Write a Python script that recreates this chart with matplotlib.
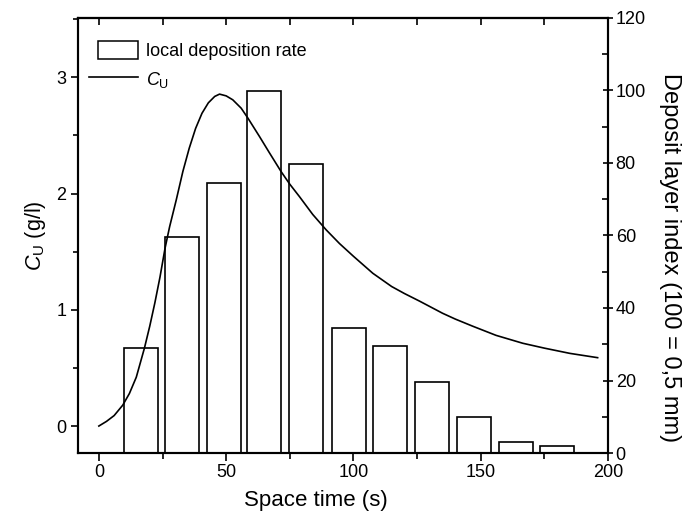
import matplotlib
matplotlib.use("Agg")
import matplotlib.pyplot as plt
from matplotlib.ticker import MultipleLocator
from matplotlib.patches import Patch, Rectangle
from matplotlib.lines import Line2D
from matplotlib.legend_handler import HandlerPatch

# bar data: deposit layer index (right axis)
bar_centers = [16.5, 32.8, 49.3, 65.0, 81.4, 98.2, 114.4, 130.8, 147.2, 163.7, 180.1]
bar_heights = [29.0, 59.5, 74.5, 99.8, 79.6, 34.5, 29.6, 19.6, 9.9, 2.9, 2.0]
bar_width = 13.3

# C_U curve (left axis)
cu_time = [0, 3, 6, 9.4, 12, 14.7, 17.9, 20, 22, 24, 26, 27.8, 30.4, 33, 35.5, 38, 40.5,
           43, 45.5, 47.4, 50, 52.6, 55.9, 58.5, 63.1, 67, 71.6, 75, 78.8, 84, 89.3,
           94.5, 100, 107.6, 115, 120, 125.9, 135, 140, 146.8, 156, 166.5, 175, 185, 195.9]
cu_conc = [0.0, 0.04, 0.09, 0.18, 0.28, 0.42, 0.67, 0.86, 1.06, 1.28, 1.53, 1.715, 1.945,
           2.19, 2.39, 2.56, 2.69, 2.78, 2.835, 2.855, 2.84, 2.806, 2.734, 2.65, 2.49, 2.35,
           2.188, 2.08, 1.973, 1.82, 1.687, 1.57, 1.46, 1.314, 1.2, 1.14, 1.075, 0.97,
           0.92, 0.859, 0.78, 0.712, 0.67, 0.625, 0.588]

plt.rcParams.update({
    "font.family": ["Liberation Sans", "DejaVu Sans"],
    "mathtext.fontset": "custom",
    "mathtext.it": "Liberation Sans:italic",
    "mathtext.rm": "Liberation Sans",
})


# narrower box for the bar legend entry
def small_box(legend, orig_handle, xdescent, ydescent, width, height, fontsize):
    w = width * 0.82
    return Rectangle((-xdescent + (width - w), -ydescent), w, height)


fig = plt.figure(figsize=(6.84, 5.21), dpi=100)
ax = fig.add_axes([0.114, 0.1305, 0.775, 0.835])
ax2 = ax.twinx()

ax.plot(cu_time, cu_conc, color="black", lw=1.2, zorder=3)
ax2.bar(bar_centers, bar_heights, width=bar_width, fill=False, edgecolor="black", lw=1.2)

ax.set_xlim(-8.2, 200)
ax.set_ylim(-0.232, 3.51)
ax2.set_ylim(0, 120)

ax.xaxis.set_major_locator(MultipleLocator(50))
ax.xaxis.set_minor_locator(MultipleLocator(25))
ax.yaxis.set_major_locator(MultipleLocator(1))
ax.yaxis.set_minor_locator(MultipleLocator(0.5))
ax2.yaxis.set_major_locator(MultipleLocator(20))
ax2.yaxis.set_minor_locator(MultipleLocator(10))

ax.tick_params(axis="x", which="both", direction="out", top=False, labelsize=13, width=1.2, pad=2)
ax.tick_params(axis="x", which="major", length=6)
ax.tick_params(axis="x", which="minor", length=4)
ax.tick_params(axis="y", which="both", direction="out", right=False, labelsize=13, width=1.2)
ax.tick_params(axis="y", which="major", length=5)
ax.tick_params(axis="y", which="minor", length=3.5)
ax2.tick_params(axis="y", which="major", direction="inout", length=7, width=1.2,
                labelsize=13, pad=2)
ax2.tick_params(axis="y", which="minor", direction="in", length=4, width=1.2)

# top ticks drawn inward on a secondary x axis
top = ax.secondary_xaxis("top")
top.xaxis.set_major_locator(MultipleLocator(25))
top.tick_params(direction="in", length=5, width=1.2, labeltop=False)

for a in (ax, ax2):
    for s in a.spines.values():
        s.set_linewidth(1.5)
top.spines["top"].set_linewidth(1.5)

ax.set_xlabel("Space time (s)", fontsize=16)
ax.xaxis.set_label_coords(0.449, -0.084)
ax.set_ylabel(r"$C_\mathrm{U}$ (g/l)", fontsize=15.5, labelpad=6)
fig.text(0.979, 0.505, "Deposit layer index (100 = 0,5 mm)", fontsize=17,
         rotation=270, ha="center", va="center")

handles = [Patch(facecolor="none", edgecolor="black", lw=1.1),
           Line2D([], [], color="black", lw=1.2)]
labels = ["local deposition rate", r"$C_\mathrm{U}$"]
ax.legend(handles, labels, loc="upper left", bbox_to_anchor=(0.021, 0.948),
          frameon=False, fontsize=13, borderpad=0, borderaxespad=0,
          handlelength=2.7, handleheight=1.15, handletextpad=0.45, labelspacing=0.55,
          handler_map={Patch: HandlerPatch(patch_func=small_box)})

fig.savefig("out.png", dpi=100)
